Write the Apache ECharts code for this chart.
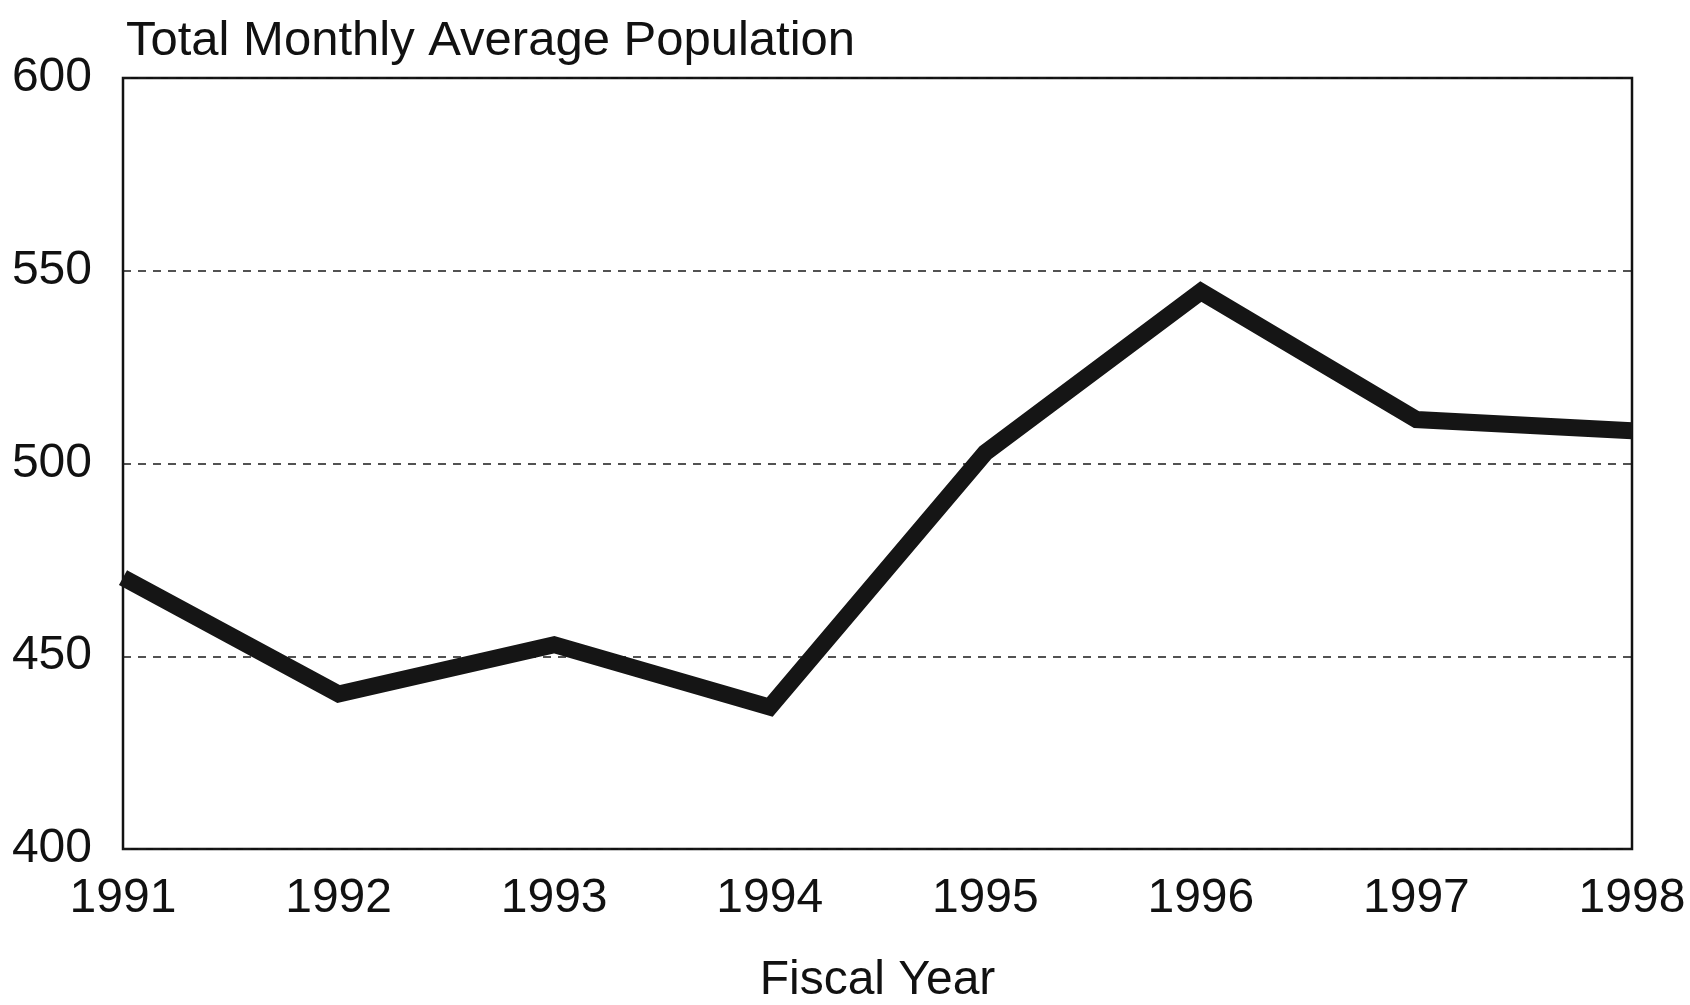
<!DOCTYPE html>
<html>
<head>
<meta charset="utf-8">
<title>Total Monthly Average Population</title>
<script src="https://cdn.jsdelivr.net/npm/echarts@6/dist/echarts.min.js"></script>
<style>
  html, body { margin: 0; padding: 0; background: #fff; }
  #chart { width: 1690px; height: 1005px; }
</style>
</head>
<body>
<div id="chart"></div>
<script>
// Fiscal years on the horizontal axis
const fiscalYears = ['1991', '1992', '1993', '1994', '1995', '1996', '1997', '1998'];
// Monthly average population for each fiscal year
const avgPopulation = [470.4, 440.2, 453.0, 436.8, 502.8, 544.6, 511.4, 508.5];
// Vertical axis range
const yMin = 400;
const yMax = 600;
const yStep = 50;

const font = '"Liberation Sans", Arial, Helvetica, sans-serif';
const ink = '#111111';

const chart = echarts.init(document.getElementById('chart'), null, { renderer: 'canvas' });

chart.setOption({
  animation: false,
  backgroundColor: '#ffffff',
  title: {
    text: 'Total Monthly Average Population',
    left: 126,
    top: 17,
    padding: 0,
    textStyle: { fontFamily: font, fontSize: 49, fontWeight: 'normal', color: ink }
  },
  grid: {
    left: 123,
    right: 58,
    top: 78,
    bottom: 156,
    outerBoundsMode: 'none',
    containLabel: false,
    show: true,
    borderColor: ink,
    borderWidth: 2.5,
    backgroundColor: 'transparent'
  },
  xAxis: {
    type: 'category',
    data: fiscalYears,
    boundaryGap: false,
    name: 'Fiscal Year',
    nameLocation: 'middle',
    nameGap: 108,
    nameTextStyle: { fontFamily: font, fontSize: 48, color: ink },
    axisLine: { show: false },
    axisTick: { show: false },
    splitLine: { show: false },
    axisLabel: {
      fontFamily: font, fontSize: 48, color: ink, margin: 26,
      interval: 0, showMinLabel: true, showMaxLabel: true
    }
  },
  yAxis: {
    type: 'value',
    min: yMin,
    max: yMax,
    interval: yStep,
    axisLine: { show: false },
    axisTick: { show: false },
    axisLabel: { fontFamily: font, fontSize: 48, color: ink, margin: 31 },
    splitLine: {
      show: true,
      lineStyle: { color: '#1a1a1a', width: 1.5, type: [8, 7] }
    }
  },
  series: [{
    type: 'line',
    data: avgPopulation,
    symbol: 'none',
    lineStyle: { color: '#151515', width: 17, join: 'miter', cap: 'butt' },
    z: 3
  }]
});
</script>
</body>
</html>
